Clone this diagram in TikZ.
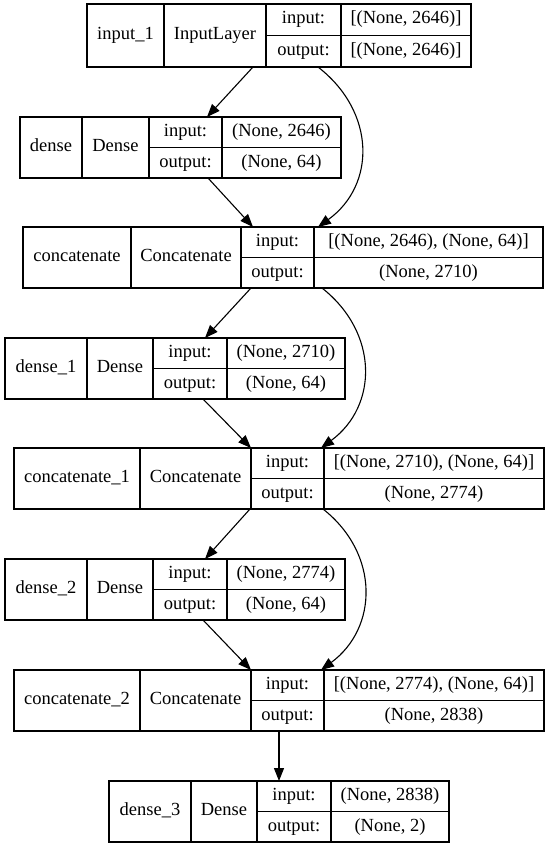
\documentclass[tikz,border=0pt]{standalone}
\usepackage{fontspec}
\setmainfont{Liberation Serif}
\usetikzlibrary{arrows.meta, positioning}

\begin{document}
\begin{tikzpicture}[
		x=1pt, y=-1pt,
		every node/.style={font=\fontsize{18.5}{20}\selectfont, inner sep=0pt, outer sep=0pt, text height=12.5pt, text depth=4pt},
		cell/.style={draw, line width=1.3pt, minimum height=61pt},
		half/.style={draw, line width=1.3pt, minimum height=30.5pt},
		->, >={Triangle[length=13pt, width=10pt]}, line width=1.1pt, black
		]
		\useasboundingbox (0,0) rectangle (549,848);
		% input layer
		\node[cell, minimum height=63pt, minimum width=77pt, anchor=north west] at (87,4) (i1name) {input\_1};
		\node[cell, minimum height=63pt, minimum width=102pt, right=0pt of i1name] (i1type) {InputLayer};
		\node[half, minimum height=31.5pt, minimum width=75pt, anchor=north west] at (i1type.north east) (i1inl) {input:};
		\node[half, minimum height=31.5pt, minimum width=75pt, below=0pt of i1inl] (i1outl) {output:};
		\node[half, minimum height=31.5pt, minimum width=130pt, right=0pt of i1inl] (i1inv) {[(None, 2646)]};
		\node[half, minimum height=31.5pt, minimum width=130pt, right=0pt of i1outl] (i1outv) {[(None, 2646)]};
		
		% dense
		\node[cell, minimum width=62pt, anchor=north west] at (20,117) (d0name) {dense};
		\node[cell, minimum width=67pt, right=0pt of d0name] (d0type) {Dense};
		\node[half, minimum width=73pt, anchor=north west] at (d0type.north east) (d0inl) {input:};
		\node[half, minimum width=73pt, below=0pt of d0inl] (d0outl) {output:};
		\node[half, minimum width=119pt, right=0pt of d0inl] (d0inv) {(None, 2646)};
		\node[half, minimum width=119pt, right=0pt of d0outl] (d0outv) {(None, 64)};
		
		% concatenate
		\node[cell, minimum width=108pt, anchor=north west] at (23,227) (c0name) {concatenate};
		\node[cell, minimum width=110pt, right=0pt of c0name] (c0type) {Concatenate};
		\node[half, minimum width=73pt, anchor=north west] at (c0type.north east) (c0inl) {input:};
		\node[half, minimum width=73pt, below=0pt of c0inl] (c0outl) {output:};
		\node[half, minimum width=229pt, right=0pt of c0inl] (c0inv) {[(None, 2646), (None, 64)]};
		\node[half, minimum width=229pt, right=0pt of c0outl] (c0outv) {(None, 2710)};
		
		% dense_1
		\node[cell, minimum width=82pt, anchor=north west] at (5,338) (d1name) {dense\_1};
		\node[cell, minimum width=66pt, right=0pt of d1name] (d1type) {Dense};
		\node[half, minimum width=74pt, anchor=north west] at (d1type.north east) (d1inl) {input:};
		\node[half, minimum width=74pt, below=0pt of d1inl] (d1outl) {output:};
		\node[half, minimum width=118pt, right=0pt of d1inl] (d1inv) {(None, 2710)};
		\node[half, minimum width=118pt, right=0pt of d1outl] (d1outv) {(None, 64)};
		
		% concatenate_1
		\node[cell, minimum width=126pt, anchor=north west] at (14,448) (c1name) {concatenate\_1};
		\node[cell, minimum width=111pt, right=0pt of c1name] (c1type) {Concatenate};
		\node[half, minimum width=73pt, anchor=north west] at (c1type.north east) (c1inl) {input:};
		\node[half, minimum width=73pt, below=0pt of c1inl] (c1outl) {output:};
		\node[half, minimum width=220pt, right=0pt of c1inl] (c1inv) {[(None, 2710), (None, 64)]};
		\node[half, minimum width=220pt, right=0pt of c1outl] (c1outv) {(None, 2774)};
		
		% dense_2
		\node[cell, minimum width=82pt, anchor=north west] at (5,559) (d2name) {dense\_2};
		\node[cell, minimum width=66pt, right=0pt of d2name] (d2type) {Dense};
		\node[half, minimum width=74pt, anchor=north west] at (d2type.north east) (d2inl) {input:};
		\node[half, minimum width=74pt, below=0pt of d2inl] (d2outl) {output:};
		\node[half, minimum width=118pt, right=0pt of d2inl] (d2inv) {(None, 2774)};
		\node[half, minimum width=118pt, right=0pt of d2outl] (d2outv) {(None, 64)};
		
		% concatenate_2
		\node[cell, minimum width=126pt, anchor=north west] at (14,670) (c2name) {concatenate\_2};
		\node[cell, minimum width=111pt, right=0pt of c2name] (c2type) {Concatenate};
		\node[half, minimum width=73pt, anchor=north west] at (c2type.north east) (c2inl) {input:};
		\node[half, minimum width=73pt, below=0pt of c2inl] (c2outl) {output:};
		\node[half, minimum width=220pt, right=0pt of c2inl] (c2inv) {[(None, 2774), (None, 64)]};
		\node[half, minimum width=220pt, right=0pt of c2outl] (c2outv) {(None, 2838)};
		
		% dense_3
		\node[cell, minimum width=82pt, anchor=north west] at (109,781) (d3name) {dense\_3};
		\node[cell, minimum width=66pt, right=0pt of d3name] (d3type) {Dense};
		\node[half, minimum width=74pt, anchor=north west] at (d3type.north east) (d3inl) {input:};
		\node[half, minimum width=74pt, below=0pt of d3inl] (d3outl) {output:};
		\node[half, minimum width=118pt, right=0pt of d3inl] (d3inv) {(None, 2838)};
		\node[half, minimum width=118pt, right=0pt of d3outl] (d3outv) {(None, 2)};
		
		% Draw the layer connections
		\draw ([xshift=-13pt]i1type.south east) -- ([xshift=-15pt]d0inl.north east);
		\draw ([xshift=-23pt]i1outl.south east) .. controls +(58,45) and +(58,-42) .. ([xshift=4pt]c0inv.north west);
		\draw ([xshift=-14pt]d0outl.south east) -- ([xshift=12pt]c0inl.north west);
		\draw ([xshift=10pt]c0outl.south west) -- ([xshift=-22pt]d1inl.north east);
		\draw ([xshift=8pt]c0outv.south west) .. controls +(57,45) and +(57,-42) .. ([xshift=-3pt]c1inv.north west);
		\draw ([xshift=-24pt]d1outl.south east) -- (c1inl.north west);
		\draw ([xshift=-1pt]c1outl.south west) -- ([xshift=-22pt]d2inl.north east);
		\draw ([xshift=-1pt]c1outv.south west) .. controls +(57,45) and +(57,-42) .. ([xshift=-3pt]c2inv.north west);
		\draw ([xshift=-24pt]d2outl.south east) -- (c2inl.north west);
		\draw ([xshift=-8.5pt]c2outl.south) -- ([xshift=-15pt]d3inl.north);
	\end{tikzpicture}
\end{document}
